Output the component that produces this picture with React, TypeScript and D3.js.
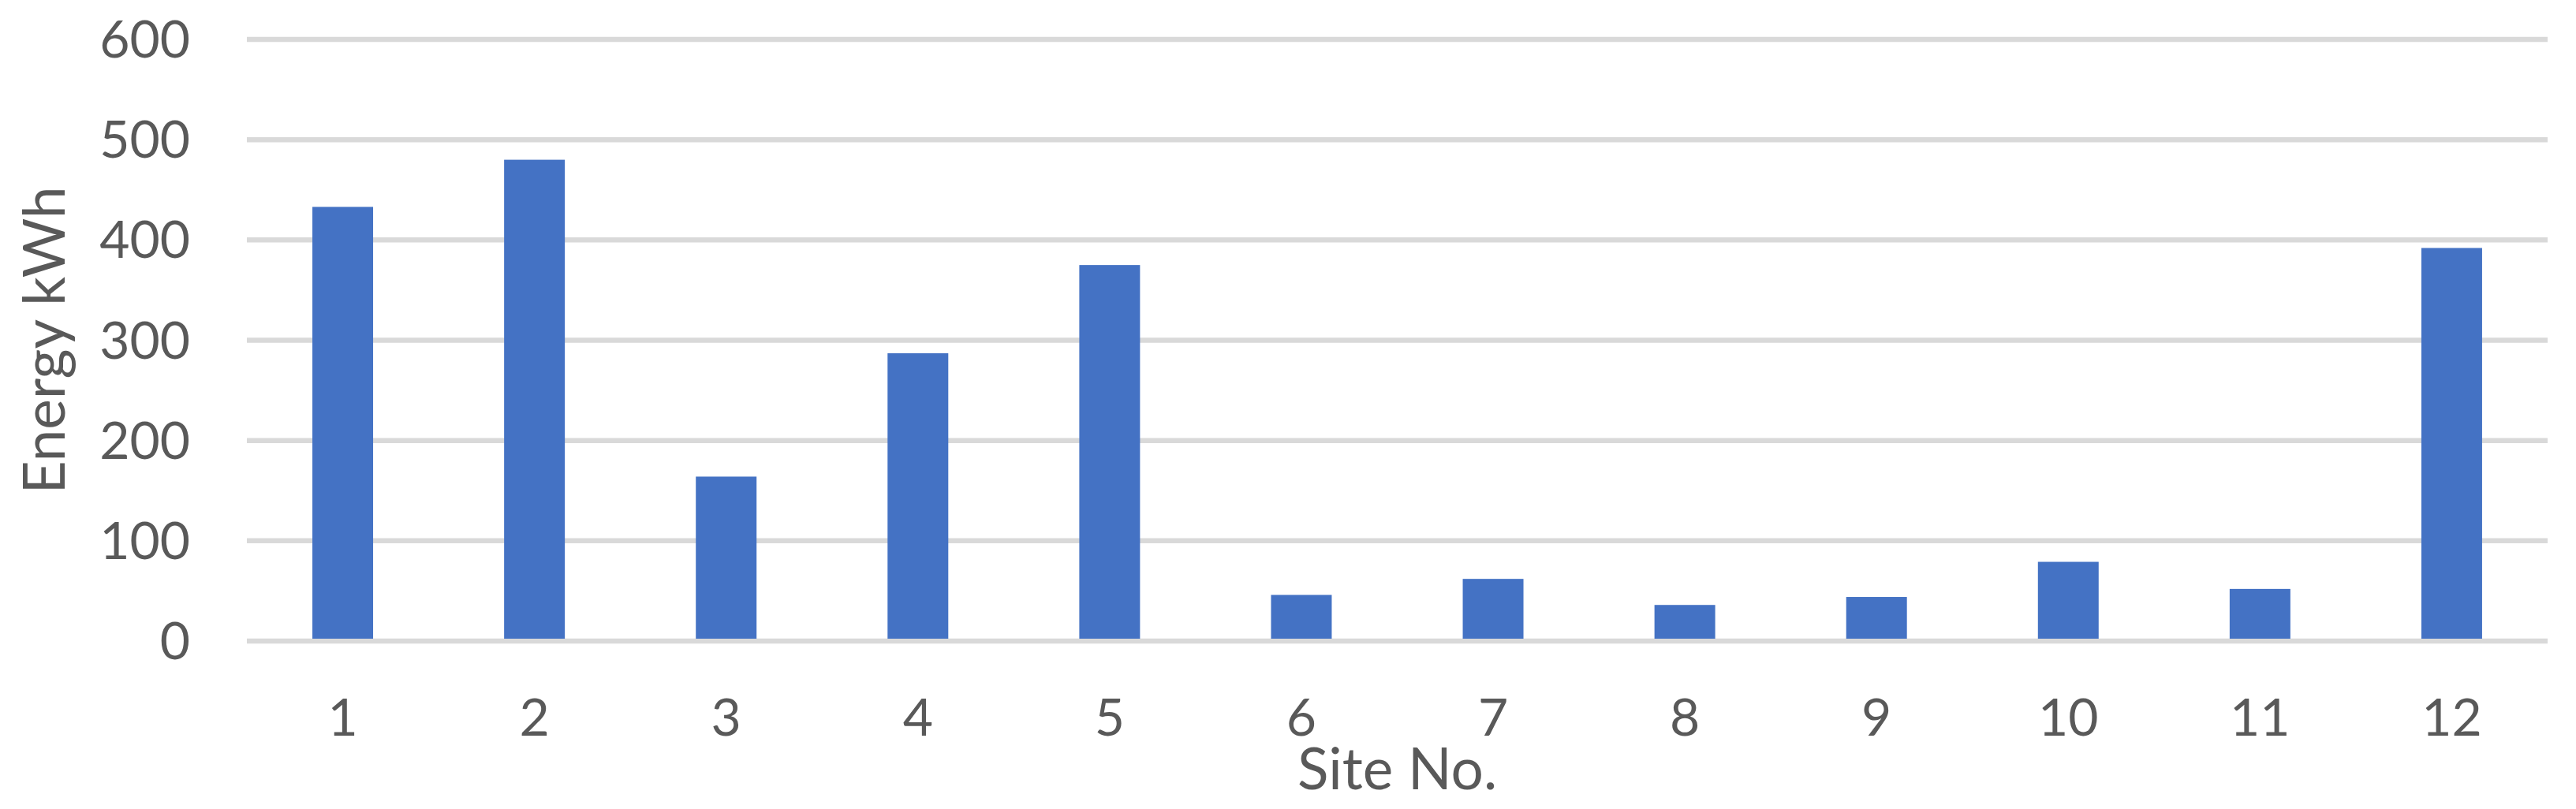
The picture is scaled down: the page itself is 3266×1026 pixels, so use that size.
import React from "react";
import * as d3 from "d3";

// energy per site
const sites = ["1", "2", "3", "4", "5", "6", "7", "8", "9", "10", "11", "12"];
const energy = [433, 480, 164, 287, 375, 46, 62, 36, 44, 79, 52, 392];
const yTicks = [0, 100, 200, 300, 400, 500, 600];

const width = 3266;
const height = 1026;
const plot = { left: 313, right: 3230, top: 50, bottom: 813 };

const font = "Lato, 'Open Sans', sans-serif";
const textColor = "#595959";

export default function App() {
  const x = d3
    .scaleBand()
    .domain(sites)
    .range([plot.left, plot.right])
    .paddingInner(0.6833)
    .paddingOuter(0.3417);
  const y = d3.scaleLinear().domain([0, 600]).range([plot.bottom, plot.top]);

  const midX = (plot.left + plot.right) / 2;
  const midY = (plot.top + plot.bottom) / 2;

  return (
    <svg
      width={width}
      height={height}
      style={{ position: "absolute", left: 0, top: 0, background: "#fff" }}
    >
      <rect width={width} height={height} fill="#fff" />
      {/* gridlines */}
      {yTicks.map((t) => (
        <line
          key={"g" + t}
          x1={plot.left}
          x2={plot.right}
          y1={y(t)}
          y2={y(t)}
          stroke="#d9d9d9"
          strokeWidth={6.5}
        />
      ))}
      {/* bars */}
      {energy.map((v, i) => (
        <rect
          key={"b" + i}
          x={x(sites[i])}
          y={y(v)}
          width={x.bandwidth()}
          height={y(0) - y(v) - 3}
          fill="#4472c4"
        />
      ))}
      {/* y tick labels */}
      {yTicks.map((t) => (
        <text
          key={"yt" + t}
          x={241}
          y={y(t) + 23}
          textAnchor="end"
          fontFamily={font}
          fontSize={66}
          fill={textColor}
        >
          {t}
        </text>
      ))}
      {/* x tick labels */}
      {sites.map((s) => (
        <text
          key={"xt" + s}
          x={(x(s) as number) + x.bandwidth() / 2}
          y={933}
          textAnchor="middle"
          fontFamily={font}
          fontSize={66}
          fill={textColor}
        >
          {s}
        </text>
      ))}
      {/* axis titles */}
      <text
        x={midX}
        y={1001}
        textAnchor="middle"
        fontFamily={font}
        fontSize={73}
        fill={textColor}
      >
        Site No.
      </text>
      <text
        transform={`translate(82, ${midY}) rotate(-90)`}
        textAnchor="middle"
        fontFamily={font}
        fontSize={73}
        fill={textColor}
      >
        Energy kWh
      </text>
    </svg>
  );
}
